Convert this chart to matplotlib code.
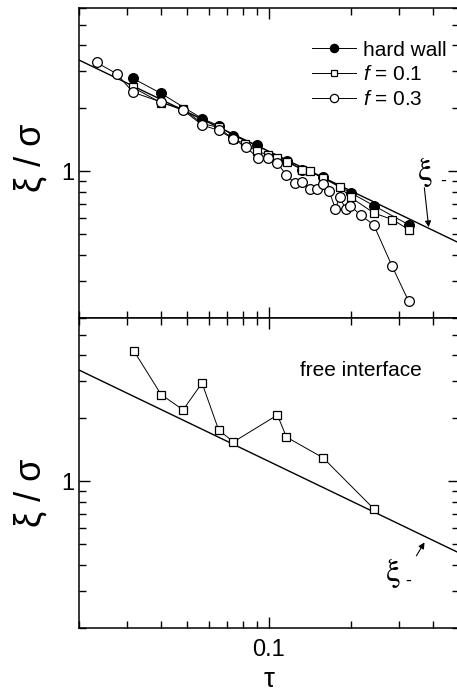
import matplotlib
matplotlib.use("Agg")
import matplotlib.pyplot as plt
from matplotlib.ticker import LogLocator, NullFormatter, FixedLocator, FixedFormatter

plt.rcParams['font.family'] = ['Liberation Sans', 'DejaVu Sans']
plt.rcParams['mathtext.fontset'] = 'custom'
plt.rcParams['mathtext.rm'] = 'Liberation Sans'
plt.rcParams['mathtext.it'] = 'Liberation Sans:italic'

# ---- data ----
# power-law line xi_- (two end points, straight in log-log)
line_tau = [0.02, 0.5]
line_xi = [3.39, 0.456]

# top panel: hard wall
hw_tau = [0.0316, 0.0401, 0.0569, 0.0653, 0.0738, 0.0905, 0.1162, 0.1326,
          0.1575, 0.1997, 0.2426, 0.327]
hw_xi = [2.77, 2.35, 1.78, 1.65, 1.48, 1.33, 1.12, 1.02, 0.94, 0.79, 0.687,
         0.556]

# top panel: f = 0.1
f1_tau = [0.0316, 0.0401, 0.0484, 0.0569, 0.0653, 0.0738, 0.0819, 0.0903,
          0.0989, 0.1074, 0.1162, 0.1326, 0.1412, 0.1575, 0.183, 0.1997,
          0.2426, 0.284, 0.327]
f1_xi = [2.51, 2.12, 1.98, 1.687, 1.62, 1.42, 1.355, 1.245, 1.20, 1.153,
         1.109, 1.019, 1.004, 0.93, 0.839, 0.752, 0.634, 0.589, 0.528]

# top panel: f = 0.3
f3_tau = [0.0232, 0.0275, 0.0316, 0.0401, 0.0484, 0.0569, 0.0653, 0.0738,
          0.0821, 0.0911, 0.0992, 0.1074, 0.1159, 0.1243, 0.1326, 0.1412,
          0.150, 0.158, 0.1662, 0.1754, 0.182, 0.1914, 0.199, 0.2174,
          0.2426, 0.284, 0.326]
f3_xi = [3.30, 2.92, 2.38, 2.14, 1.95, 1.66, 1.567, 1.43, 1.307, 1.158,
         1.156, 1.096, 0.957, 0.881, 0.890, 0.824, 0.824, 0.871, 0.809,
         0.664, 0.752, 0.662, 0.687, 0.617, 0.557, 0.352, 0.241]

# bottom panel: free interface
fi_tau = [0.0318, 0.0401, 0.0483, 0.0567, 0.0653, 0.074, 0.1074, 0.1159,
          0.158, 0.2426]
fi_xi = [4.19, 2.59, 2.19, 2.94, 1.755, 1.54, 2.07, 1.625, 1.295, 0.741]

xlim = (0.02, 0.5)
ylim = (0.2, 6)

fig = plt.figure(figsize=(4.57, 6.92), dpi=100)
W, H = 457, 692
ax1 = fig.add_axes([79 / W, 1 - 318 / H, 380 / W, 310 / H])
ax2 = fig.add_axes([79 / W, 1 - 628 / H, 380 / W, 310 / H])

mk = dict(color='black', lw=0.7, markeredgecolor='black', markeredgewidth=0.9)

for ax in (ax1, ax2):
    ax.set_xscale('log')
    ax.set_yscale('log')
    ax.set_xlim(*xlim)
    ax.set_ylim(*ylim)
    ax.plot(line_tau, line_xi, color='black', lw=1.0)
    ax.xaxis.set_major_locator(FixedLocator([0.1]))
    ax.xaxis.set_major_formatter(FixedFormatter(['0.1']))
    ax.xaxis.set_minor_locator(LogLocator(base=10, subs=range(2, 10)))
    ax.xaxis.set_minor_formatter(NullFormatter())
    ax.yaxis.set_major_locator(FixedLocator([1]))
    ax.yaxis.set_major_formatter(FixedFormatter(['1']))
    ax.yaxis.set_minor_locator(LogLocator(base=10, subs=range(2, 10)))
    ax.yaxis.set_minor_formatter(NullFormatter())
    ax.tick_params(which='both', direction='in', top=True, right=True,
                   labelsize=17, width=1.0, color='black')
    ax.tick_params(which='major', length=8)
    ax.tick_params(which='minor', length=5)
    for s in ax.spines.values():
        s.set_linewidth(1.1)

ax1.tick_params(labelbottom=False)

# y labels placed by hand (they sit at different heights in the two panels)
fig.text(31 / W, 1 - 158 / H, 'ξ / σ', rotation=90, fontsize=26,
         ha='center', va='center')
fig.text(31 / W, 1 - 493 / H, 'ξ / σ', rotation=90, fontsize=26,
         ha='center', va='center')

ax1.plot(hw_tau, hw_xi, marker='o', ms=7, markerfacecolor='black',
         label='hard wall', **mk)
ax1.plot(f1_tau, f1_xi, marker='s', ms=5.5, markerfacecolor='white',
         label='$f$ = 0.1', **mk)
ax1.plot(f3_tau, f3_xi, marker='o', ms=7, markerfacecolor='white',
         label='$f$ = 0.3', **mk)

ax1.legend(loc='upper left', bbox_to_anchor=(225 / 380, 0.922), frameon=False,
           fontsize=15, handlelength=2.1, handletextpad=0.35,
           labelspacing=0.28, borderaxespad=0.0, markerscale=0.85)

ax1.text(0.911, 0.471, r'$\mathrm{\xi}$', transform=ax1.transAxes,
         fontsize=24, math_fontfamily='stix', ha='center', va='center')
ax1.text(0.958, 0.44, '-', transform=ax1.transAxes, fontsize=13,
         ha='center', va='center')
ax1.annotate('', xy=(0.921, 0.284), xytext=(0.908, 0.429),
             xycoords='axes fraction',
             arrowprops=dict(arrowstyle='-|>', color='black', lw=0.8,
                             mutation_scale=9))

ax2.plot(fi_tau, fi_xi, marker='s', ms=5.5, markerfacecolor='white', **mk)
ax2.text((300 - 79) / 380, (628 - 370) / 310, 'free interface',
         transform=ax2.transAxes, fontsize=15, ha='left', va='center')
ax2.text(0.826, 0.177, r'$\mathrm{\xi}$', transform=ax2.transAxes,
         fontsize=24, math_fontfamily='stix', ha='center', va='center')
ax2.text(0.866, 0.15, '-', transform=ax2.transAxes, fontsize=13,
         ha='center', va='center')
ax2.annotate('', xy=(0.913, 0.284), xytext=(0.884, 0.225),
             xycoords='axes fraction',
             arrowprops=dict(arrowstyle='-|>', color='black', lw=0.8,
                             mutation_scale=9))
ax2.tick_params(axis='x', pad=8)
fig.text(269 / W, 1 - 680 / H, 'τ', fontsize=20, ha='center', va='center')

fig.savefig('out.png', dpi=100)
